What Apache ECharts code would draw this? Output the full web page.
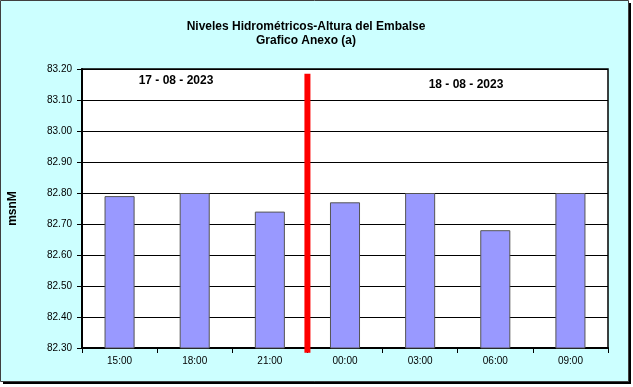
<!DOCTYPE html>
<html>
<head>
<meta charset="utf-8">
<script src="https://cdn.jsdelivr.net/npm/echarts@6/dist/echarts.min.js"></script>
<style>
html,body{margin:0;padding:0;background:#ffffff;}
#chart{width:633px;height:387px;}
</style>
</head>
<body>
<div id="chart"></div>
<script>
var categories = ['15:00','18:00','21:00','00:00','03:00','06:00','09:00'];
var levels = [82.79, 82.80, 82.74, 82.77, 82.80, 82.68, 82.80];
var dayLabels = ['17 - 08 - 2023', '18 - 08 - 2023'];
var dividerLine = [[3, 83.185], [3, 82.285]];
var yMin = 82.30, yMax = 83.20, yStep = 0.10;

var chart = echarts.init(document.getElementById('chart'), null, {renderer:'canvas'});
var font = '"Liberation Sans", Arial, sans-serif';
chart.setOption({
  animation: false,
  backgroundColor: 'transparent',
  graphic: [
    {type:'rect', z:-10, silent:true, shape:{x:3, y:3, width:628, height:381}, style:{fill:'#000000'}},
    {type:'rect', z:-9, silent:true, shape:{x:0.5, y:0.5, width:628, height:381}, style:{fill:'#CCFFFF', stroke:'#404040', lineWidth:1}},
    {type:'text', z:20, style:{text:dayLabels[0], x:176, y:81, textAlign:'center', textVerticalAlign:'middle', font:'bold 12px ' + font, fill:'#000'}},
    {type:'text', z:20, style:{text:dayLabels[1], x:466, y:85, textAlign:'center', textVerticalAlign:'middle', font:'bold 12px ' + font, fill:'#000'}}
  ],
  title: {
    text: 'Niveles Hidrométricos-Altura del Embalse\nGrafico Anexo (a)',
    left: 301, top: 15, textAlign: 'center',
    textStyle: {fontFamily: font, fontSize: 12, fontWeight: 'bold', color: '#000', lineHeight: 14}
  },
  grid: {left: 82, top: 69, right: 25, bottom: 39, show: true, backgroundColor: '#ffffff', borderColor: '#000', borderWidth: 1.5,
         containLabel: false, outerBoundsMode: 'none'},
  xAxis: [
    {type:'category', data: categories,
     axisLine:{show:true, lineStyle:{color:'#000', width:2}},
     axisTick:{show:true, length:5, alignWithLabel:false, lineStyle:{color:'#000'}},
     axisLabel:{fontFamily:font, fontSize:10, color:'#000', margin:8},
     splitLine:{show:false}},
    {type:'value', min:0, max:7, show:false}
  ],
  yAxis: {
    type:'value', min:yMin, max:yMax, interval:yStep,
    name:'msnM', nameLocation:'middle', nameRotate:90, nameGap:63,
    nameTextStyle:{fontFamily:font, fontSize:12, fontWeight:'bold', color:'#000'},
    axisLine:{show:true, lineStyle:{color:'#000', width:2}},
    axisTick:{show:true, length:5, lineStyle:{color:'#000'}},
    axisLabel:{fontFamily:font, fontSize:10, color:'#000', margin:10, formatter:function(v){return v.toFixed(2);}},
    splitLine:{show:true, lineStyle:{color:'#000', width:1}}
  },
  series: [
    {type:'bar', data: levels, barWidth:'40%',
     itemStyle:{color:'#9999FF', borderColor:'#555555', borderWidth:1}},
    {type:'line', xAxisIndex:1, data: dividerLine, clip:false, symbol:'none', z:10,
     lineStyle:{color:'#FF0000', width:6, cap:'butt'}}
  ]
});
</script>
</body>
</html>
